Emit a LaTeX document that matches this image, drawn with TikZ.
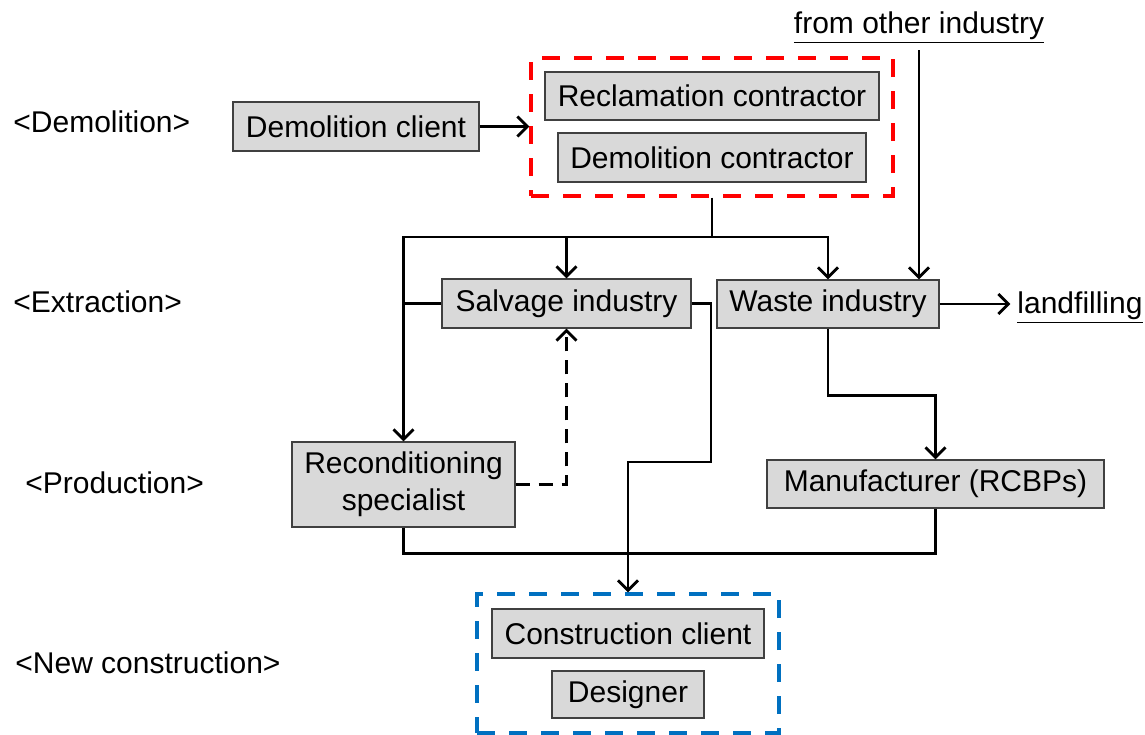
\documentclass[tikz,border=0pt]{standalone}
\usepackage{fontspec}
\setmainfont{Liberation Sans}
\usetikzlibrary{arrows.meta,fit}
\definecolor{groupblue}{RGB}{0,112,192}

\begin{document}
\begin{tikzpicture}
        [x=0.5pt, y=-0.5pt,
        every node/.style={font=\fontsize{15}{18.5}\selectfont},
        box/.style={draw=black!75, fill=black!15, line width=0.7pt, inner sep=0pt, align=center},
        stage/.style={anchor=west, inner sep=0pt},
        link/.style={line width=1.4pt},
        flow/.style={link, -{Straight Barb[length=5pt,width=10pt,line width=1.4pt]}},
        group/.style={line width=2pt, dash pattern=on 9pt off 7pt}]
        \useasboundingbox (0,0) rectangle (1145,734);

        % Stage labels on the left
        \node[stage] (lbldemo) at (13,122) {<Demolition>};
        \node[stage] (lblextr) at (13,302) {<Extraction>};
        \node[stage] (lblprod) at (25,483) {<Production>};
        \node[stage] (lblnew) at (15,663) {<New construction>};

        % Actors
        \node[box, minimum width=123pt, minimum height=24.5pt] (client) at (356,126.5) {Demolition client};
        \node[box, minimum width=167pt, minimum height=24pt] (reclam) at (712,96) {Reclamation contractor};
        \node[box, minimum width=154pt, minimum height=24.5pt] (democon) at (712,157.5) {Demolition contractor};
        \node[box, minimum width=124.5pt, minimum height=24.5pt] (salvage) at (566.5,303.5) {Salvage industry};
        \node[box, minimum width=111pt, minimum height=24pt] (waste) at (828,304) {Waste industry};
        \node[box, minimum width=111.5pt, minimum height=42.5pt] (recond) at (403.5,484.5) {Reconditioning\\specialist};
        \node[box, minimum width=168.5pt, minimum height=24pt] (manuf) at (935.5,484) {Manufacturer (RCBPs)};
        \node[box, minimum width=136pt, minimum height=24.5pt] (conclient) at (628,633.5) {Construction client};
        \node[box, minimum width=76pt, minimum height=23.5pt] (designer) at (628,694.5) {Designer};

        % Dashed groups
        \node[group, draw=red, inner sep=6.5pt, fit=(reclam)(democon)] (red) {};
        \node[group, draw=groupblue, inner sep=7pt, fit=(conclient)(designer)] (blue) {};

        % Outside ends
        \node[anchor=base] (fromind) at (919,33) {\underline{from other industry}};
        \node[anchor=base] (landfill) at (1080,313) {\underline{landfilling}};

        % Flows
        \coordinate (split) at (712,237);
        \coordinate (turn) at (711,462);
        \draw[flow] (client.east) -- (client.east -| red.west);
        \draw[link] (red.south) -- (split);
        \draw[flow] (split) -| (salvage.north);
        \draw[flow] (split) -| (waste.north);
        \draw[flow] (split) -| (recond.north);
        \draw[link] (salvage.west) -- (salvage.west -| recond.north);
        \draw[flow] (fromind.south) -- (fromind.south |- waste.north);
        \draw[flow] (waste.east) -- (waste.east -| landfill.west);
        \draw[flow, dash pattern=on 7pt off 4.5pt] (recond.east) -| (salvage.south);
        \draw[flow] (salvage.east) -| (turn) -| (blue.north);
        \draw[flow] (waste.south) -- ++(0,67) -| (manuf.north);
        \draw[link] (recond.south) -- ++(0,26) -| (manuf.south);

    \end{tikzpicture}
\end{document}
